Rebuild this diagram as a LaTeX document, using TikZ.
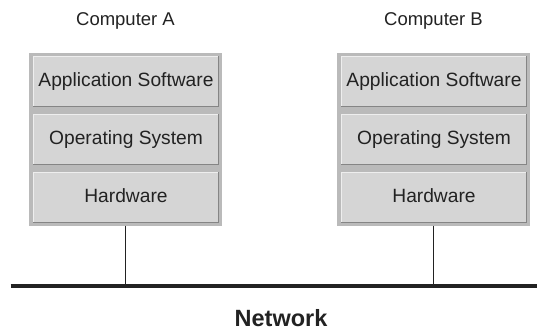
\documentclass[tikz,border=0pt]{standalone}
\usepackage{fontspec}
\setmainfont{Liberation Sans}
\definecolor{outerc}{HTML}{BABABA}
\definecolor{fillc}{HTML}{D5D5D5}
\definecolor{lightc}{HTML}{EEEEEE}
\definecolor{darkc}{HTML}{858585}
\definecolor{txtc}{HTML}{222222}
\tikzset{
  computer/.style={fill=outerc, draw=none, minimum width=193pt, minimum height=172.5pt, inner sep=0pt},
  layer/.style={fill=fillc, draw=none, minimum width=186.5pt, minimum height=51pt, inner sep=0pt,
    text=txtc, font=\fontsize{19.2}{21}\selectfont, text height=13.7pt, text depth=3pt},
  bevellight/.style={draw=lightc, line width=1pt},
  beveldark/.style={draw=darkc, line width=1pt},
  title/.style={text=txtc, font=\fontsize{18.5}{20}\selectfont, inner sep=0pt, anchor=base},
  netlabel/.style={text=txtc, font=\fontsize{23.5}{25}\selectfont\bfseries, inner sep=0pt, anchor=base},
  netline/.style={draw=txtc, line width=4pt},
  link/.style={draw=txtc, line width=1pt}
}
\begin{document}
\begin{tikzpicture}[x=1pt,y=-1pt]
\useasboundingbox (0,0) rectangle (537,331);
% computers
\node[computer] (compA) at (125.5,139.25) {};
\node[computer] (compB) at (433.5,139.25) {};
% layers
\node[layer] (appA) at (126,81.5) {Application Software};
\node[layer] (osA)  at (126,139.5) {Operating System};
\node[layer] (hwA)  at (126,197.5) {Hardware};
\node[layer] (appB) at (434,81.5) {Application Software};
\node[layer] (osB)  at (434,139.5) {Operating System};
\node[layer] (hwB)  at (434,197.5) {Hardware};
\foreach \n in {appA,osA,hwA,appB,osB,hwB}{
  \draw[bevellight] ([xshift=0.5pt,yshift=0.5pt]\n.south west) |- ([xshift=-0.5pt,yshift=-0.5pt]\n.north east);
  \draw[beveldark] ([xshift=0.5pt,yshift=0.5pt]\n.south west) -| ([xshift=-0.5pt,yshift=-0.5pt]\n.north east);
}
% titles
\node[title] (tA) at (125.5,26) {Computer A};
\node[title] (tB) at (433.5,26) {Computer B};
% network
\coordinate (netL) at (10.5,286);
\coordinate (netR) at (537,286);
\draw[netline] (netL) -- (netR);
\draw[link] (compA.south) -- (compA.south |- netL);
\draw[link] (compB.south) -- (compB.south |- netL);
\node[netlabel] (net) at (281,326.5) {Network};
\end{tikzpicture}
\end{document}
